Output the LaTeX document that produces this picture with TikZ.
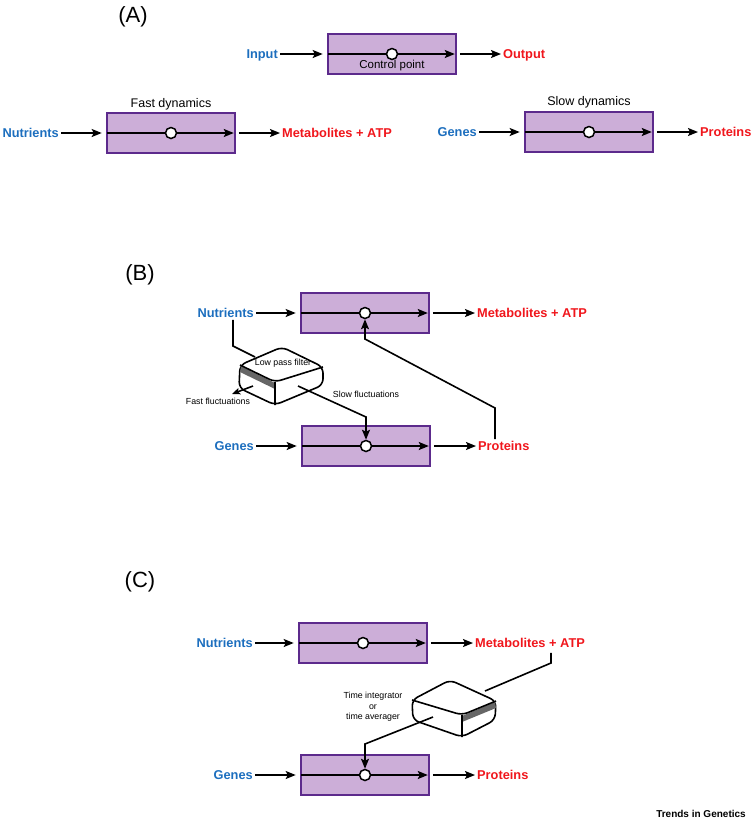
\documentclass[tikz,border=0pt]{standalone}
\usepackage{fontspec}
\setmainfont{Liberation Sans}
\usetikzlibrary{arrows.meta,calc}
\definecolor{inblue}{RGB}{28,110,190}
\definecolor{outred}{RGB}{240,22,28}
\definecolor{stagefill}{RGB}{204,174,216}
\definecolor{stageline}{RGB}{92,42,140}
\newcommand{\clrin}{inblue}
\newcommand{\clrout}{outred}

\begin{document}
\begin{tikzpicture}[x=1pt, y=-1pt,
    stage/.style={draw=stageline, fill=stagefill, line width=1.6pt, minimum width=128pt, minimum height=40pt, inner sep=0pt},
    ctrl/.style={circle, draw, fill=white, line width=1.5pt, minimum size=11pt, inner sep=0pt},
    inlbl/.style={font=\fontsize{12.8}{14}\selectfont\bfseries, text=\clrin, inner sep=2pt, text height=9.2pt, text depth=0pt, anchor=east},
    outlbl/.style={font=\fontsize{12.8}{14}\selectfont\bfseries, text=\clrout, inner sep=2pt, text height=9.2pt, text depth=0pt, anchor=west},
    panel/.style={font=\fontsize{22}{24}\selectfont},
    note/.style={font=\fontsize{8.8}{10.4}\selectfont, inner sep=1pt},
    arr/.style={-{Stealth[length=10pt,width=8pt,inset=2pt]}, line width=1.6pt},
    wire/.style={line width=1.6pt},
    filt/.style={line width=1.6pt, rounded corners=6pt, line join=round}]
\useasboundingbox (0,0) rectangle (755,823);

%panel labels
\node[panel] (lblA) at (133,17) {(A)};
\node[panel] (lblB) at (140,275) {(B)};
\node[panel] (lblC) at (140,582) {(C)};

%panel A
\node[stage] (sA) at (392,54) {};
\node[stage] (sF) at (171,133) {};
\node[stage] (sS) at (589,132) {};
\node[inlbl] (inA) at (280,54) {Input};
\node[outlbl] (outA) at (501,54) {Output};
\node[inlbl] (inF) at (61,133) {Nutrients};
\node[outlbl] (outF) at (280,133) {Metabolites + ATP};
\node[inlbl] (inS) at (479,132) {Genes};
\node[outlbl] (outS) at (698,132) {Proteins};
\node[font=\fontsize{11.5}{13}\selectfont] (cpA) at (392,66) {Control point};
\node[font=\fontsize{12.5}{14}\selectfont] (dynF) at (171,104) {Fast dynamics};
\node[font=\fontsize{12.5}{14}\selectfont] (dynS) at (589,102) {Slow dynamics};

%panel B
\node[stage] (bT) at (365,313) {};
\node[stage] (bB) at (366,446) {};
\node[inlbl] (inbT) at (256,313) {Nutrients};
\node[outlbl] (outbT) at (475,313) {Metabolites + ATP};
\node[inlbl] (inbB) at (256,446) {Genes};
\node[outlbl] (outbB) at (476,446) {Proteins};

%panel C
\node[stage] (cT) at (363,643) {};
\node[stage] (cB) at (365,775) {};
\node[inlbl] (incT) at (255,643) {Nutrients};
\node[outlbl] (outcT) at (473,643) {Metabolites + ATP};
\node[inlbl] (incB) at (255,775) {Genes};
\node[outlbl] (outcB) at (475,775) {Proteins};

%stages
\foreach \s in {sA,sF,sS,bT,bB,cT,cB} {
    \draw[arr, shorten <=1pt, shorten >=2pt] (\s.west) -- (\s.east);
    \node[ctrl] (ctl\s) at (\s.center) {};
}
\foreach \i/\s/\o in {inA/sA/outA, inF/sF/outF, inS/sS/outS, inbT/bT/outbT, inbB/bB/outbB, incT/cT/outcT, incB/cB/outcB} {
    \draw[arr, shorten >=4.5pt] (\i.east) -- (\s.west);
    \draw[arr, shorten <=3pt] (\s.east) -- (\o.west);
}

%low pass filter
\coordinate (fbTL) at (240,365);
\coordinate (fbT) at (282,347);
\coordinate (fbR) at (323,367);
\coordinate (fbF) at (275,382);
\coordinate (fbBL) at (239,388);
\coordinate (fbBF) at (275,405);
\coordinate (fbBR) at (323,385);
\draw[filt, fill=white] (fbT) -- (fbR) -- (fbBR) -- (fbBF) -- (fbBL) -- (fbTL) -- cycle;
\fill[black!60] ($(fbTL)+(1,1)$) -- ($(fbF)+(0,1)$) -- ($(fbF)+(0,7)$) -- ($(fbTL)+(0,7)$) -- cycle;
\draw[filt] (fbTL) -- (fbF) -- (fbR) (fbF) -- (fbBF);
\node[note] (lpf) at (283,363) {Low pass filter};

\coordinate (fbK1) at (233,346);
\coordinate (fbIn) at (255,357);
\draw[wire] (fbK1 |- inbT.south) -- (fbK1) -- (fbIn);

\coordinate (fastS) at (253,386);
\coordinate (fastE) at (232,394);
\node[note] (fastL) at (218,401) {Fast fluctuations};
\draw[arr, -{Stealth[length=8pt,width=6.5pt,inset=1.5pt]}] (fastS) -- (fastE);

\coordinate (slowS) at (298,386);
\coordinate (slowK) at (366,417);
\node[note] (slowL) at (366,394) {Slow fluctuations};
\draw[arr] (slowS) -- (slowK) -- (ctlbB.north);

\coordinate (fbK2) at (495,408);
\coordinate (fbK3) at (365,339);
\draw[arr] (fbK2 |- outbB.north) -- (fbK2) -- (fbK3) -- (ctlbT.south);

%time integrator
\coordinate (fcTL) at (412,700);
\coordinate (fcT) at (450,680);
\coordinate (fcR) at (496,701);
\coordinate (fcF) at (462,715);
\coordinate (fcBL) at (413,720);
\coordinate (fcBF) at (462,737);
\coordinate (fcBR) at (495,720);
\draw[filt, fill=white] (fcT) -- (fcR) -- (fcBR) -- (fcBF) -- (fcBL) -- (fcTL) -- cycle;
\fill[black!60] ($(fcF)+(0,1)$) -- ($(fcR)+(-1,1)$) -- ($(fcR)+(0,7)$) -- ($(fcF)+(0,7)$) -- cycle;
\draw[filt] (fcTL) -- (fcF) -- (fcR) (fcF) -- (fcBF);
\node[note, align=center] (intg) at (373,707) {Time integrator\\or\\time averager};

\coordinate (fcK1) at (551,663);
\coordinate (fcIn) at (485,691);
\draw[wire, shorten <=3pt] (fcK1 |- outcT.south) -- (fcK1) -- (fcIn);

\coordinate (fcOut) at (433,717);
\coordinate (fcK2) at (365,744);
\draw[arr] (fcOut) -- (fcK2) -- (ctlcB.north);

\node[font=\fontsize{10}{12}\selectfont\bfseries] (jrnl) at (701,814) {Trends in Genetics};
\end{tikzpicture}
\end{document}
